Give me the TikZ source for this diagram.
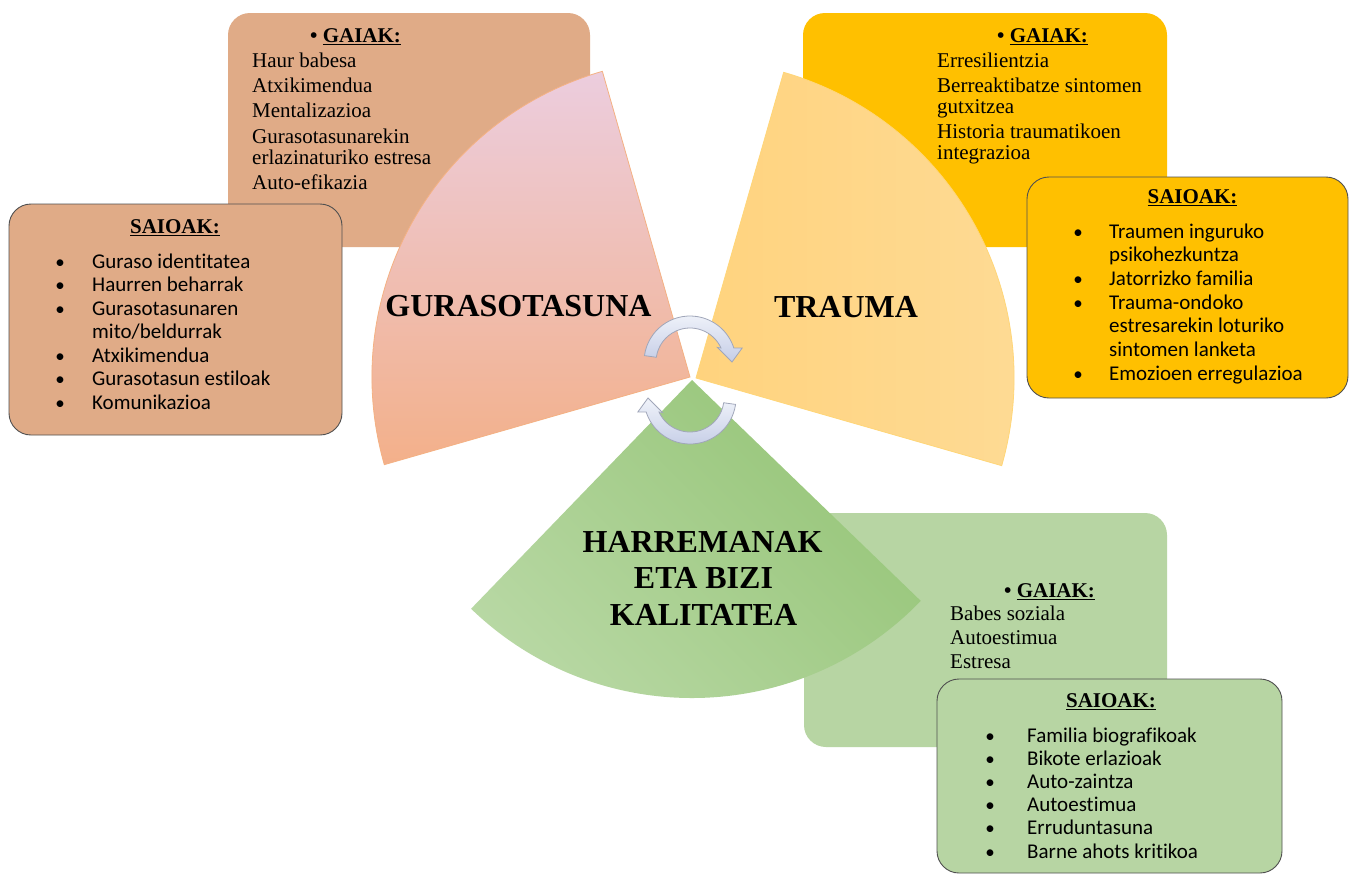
\documentclass[tikz,border=0pt]{standalone}
\usepackage{fontspec}
\setmainfont{Liberation Serif}
\newfontfamily\calibri[Ligatures={NoCommon,NoRequired,NoContextual}]{Carlito}
\definecolor{salmonbox}{RGB}{224,171,135}
\definecolor{goldbox}{RGB}{255,192,0}
\definecolor{greenbox}{RGB}{183,213,163}
\definecolor{pinktop}{RGB}{236,205,222}
\definecolor{pinkbot}{RGB}{243,176,138}
\definecolor{pinkedge}{RGB}{244,177,131}
\definecolor{yelA}{RGB}{255,211,126}
\definecolor{yelB}{RGB}{254,219,150}
\definecolor{yeledge}{RGB}{255,214,120}
\definecolor{grnA}{RGB}{150,197,120}
\definecolor{grnB}{RGB}{184,216,164}
\definecolor{arrA}{RGB}{240,243,250}
\definecolor{arrB}{RGB}{197,205,230}
\definecolor{arredge}{RGB}{160,166,185}
\definecolor{framegray}{RGB}{80,80,80}
\tikzset{
 gbox/.style={rounded corners=22pt},
 sbox/.style={rounded corners=22pt, draw=framegray, line width=0.9pt},
 ghead/.style={anchor=base west, inner sep=0pt, font=\fontsize{21}{21}\selectfont\bfseries},
 gitem/.style={anchor=base west, inner sep=0pt, font=\fontsize{21}{21}\selectfont},
 shead/.style={anchor=base, inner sep=0pt, font=\fontsize{21}{21}\selectfont\bfseries},
 sitem/.style={anchor=base west, inner sep=0pt, font=\calibri\fontsize{21}{21}\selectfont},
 sbul/.style={anchor=base, inner sep=0pt, font=\calibri\fontsize{19}{19}\selectfont},
 seclabel/.style={anchor=base, inner sep=0pt, font=\fontsize{32}{36}\selectfont\bfseries},
 cyc/.style={top color=arrA, bottom color=arrB, draw=arredge, line width=0.8pt},
}
\begin{document}
\begin{tikzpicture}[x=1pt,y=1pt]
\useasboundingbox (0,0) rectangle (1350,-876);
\fill[white] (0,0) rectangle (1350,-876);

% ---------- GAIAK boxes ----------
\fill[gbox, salmonbox] (228,-13) rectangle (590,-247);
\fill[gbox, goldbox] (803,-13) rectangle (1167,-247);
\fill[gbox, greenbox] (804,-513) rectangle (1167,-747);

% ---------- SAIOAK boxes ----------
\filldraw[sbox, fill=salmonbox] (9,-204) rectangle (342,-435);
\filldraw[sbox, fill=goldbox] (1027,-177) rectangle (1348,-398);
\filldraw[sbox, fill=greenbox] (937,-679) rectangle (1282,-873);

% ---------- sectors ----------
\shade[top color=pinktop, bottom color=pinkbot, draw=pinkedge, line width=0.8pt]
  (690,-377) -- +(106:318) arc[start angle=106, end angle=196, radius=318] -- cycle;
\shade[left color=yelA, right color=yelB, draw=yeledge, line width=0.8pt]
  (696,-378) -- +(74:318) arc[start angle=74, end angle=-16, radius=318] -- cycle;
\shade[top color=grnA, bottom color=grnB, shading angle=-45]
  (692,-380) -- +(226:318) arc[start angle=226, end angle=316, radius=318] -- cycle;

% ---------- circular arrows ----------
\begin{scope}[shift={(690,-380)}]
 \foreach \r in {0,180} {
  \begin{scope}[rotate=\r, shift={(0,18)}]
   \shade[cyc] (172:46) arc[start angle=172, end angle=17.7, radius=46]
     -- (15:54) -- (0:42) -- (28:31) -- (24.3:34)
     arc[start angle=24.3, end angle=172, radius=34] -- cycle;
  \end{scope}}
\end{scope}

% ---------- sector labels ----------
\node[seclabel] (lgur) at (518.5,-316) {GURASOTASUNA};
\node[seclabel] (ltra) at (846,-317) {TRAUMA};
\node[seclabel] (lhar1) at (702.5,-552) {HARREMANAK};
\node[seclabel] (lhar2) at (703.5,-588) {ETA BIZI};
\node[seclabel] (lhar3) at (703.5,-625) {KALITATEA};

% ---------- pink GAIAK ----------
\node[ghead] (pgh) at (310,-42) {\textbullet\ \underline{GAIAK:}};
\foreach \y/\t [count=\i] in {67/{Haur babesa},92/{Atxikimendua},117/{Mentalizazioa},143/{Gurasotasunarekin},164/{erlazinaturiko estresa},189/{Auto-efikazia}}
  \node[gitem] (pgi\i) at (252,-\y) {\t};

% ---------- pink SAIOAK ----------
\node[shead] (psh) at (175,-233) {\underline{SAIOAK:}};
\foreach \y/\t/\b [count=\i] in {268/{Guraso identitatea}/1,291.5/{Haurren beharrak}/1,315/{Gurasotasunaren}/1,338.5/{mito/beldurrak}/0,362/{Atxikimendua}/1,385.5/{Gurasotasun estiloak}/1,409/{Komunikazioa}/1}{
  \node[sitem] (psi\i) at (92,-\y) {\t};
  \ifnum\b=1 \node[sbul] (psb\i) at (60,-\y) {\textbullet};\fi
}

% ---------- yellow GAIAK ----------
\node[ghead] (ygh) at (997,-42) {\textbullet\ \underline{GAIAK:}};
\foreach \y/\t [count=\i] in {67/{Erresilientzia},92/{Berreaktibatze sintomen},113/{gutxitzea},138/{Historia traumatikoen},159/{integrazioa}}
  \node[gitem] (ygi\i) at (937,-\y) {\t};

% ---------- yellow SAIOAK ----------
\node[shead] (ysh) at (1192.5,-203) {\underline{SAIOAK:}};
\foreach \y/\t/\b [count=\i] in {238/{Traumen inguruko}/1,261.7/{psikohezkuntza}/0,285.3/{Jatorrizko familia}/1,309/{Trauma-ondoko}/1,332.7/{estresarekin loturiko}/0,356.3/{sintomen lanketa}/0,380/{Emozioen erregulazioa}/1}{
  \node[sitem] (ysi\i) at (1109,-\y) {\t};
  \ifnum\b=1 \node[sbul] (ysb\i) at (1078,-\y) {\textbullet};\fi
}

% ---------- green GAIAK ----------
\node[ghead] (ggh) at (1004,-597) {\textbullet\ \underline{GAIAK:}};
\foreach \y/\t [count=\i] in {620/{Babes soziala},644/{Autoestimua},668/{Estresa}}
  \node[gitem] (ggi\i) at (950,-\y) {\t};

% ---------- green SAIOAK ----------
\node[shead] (gsh) at (1111,-707) {\underline{SAIOAK:}};
\foreach \y/\t [count=\i] in {742/{Familia biografikoak},765.2/{Bikote erlazioak},788.4/{Auto-zaintza},811.6/{Autoestimua},834.8/{Erruduntasuna},858/{Barne ahots kritikoa}}{
  \node[sitem] (gsi\i) at (1027,-\y) {\t};
  \node[sbul] (gsb\i) at (990,-\y) {\textbullet};
}
\end{tikzpicture}
\end{document}
